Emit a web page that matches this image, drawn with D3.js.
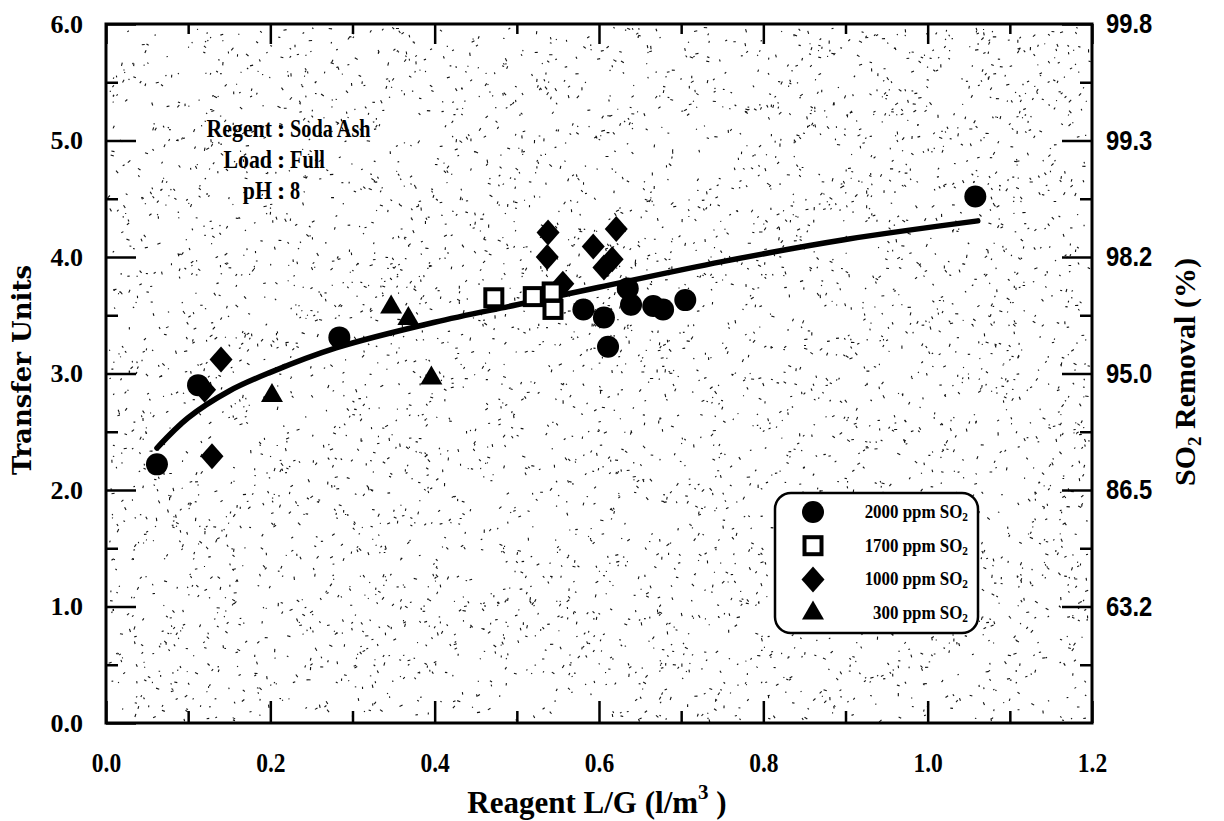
<!DOCTYPE html>
<html>
<head>
<meta charset="utf-8">
<script src="https://cdn.jsdelivr.net/npm/d3@7"></script>
<style>
  body { margin: 0; background: #fff; }
  svg { display: block; }
</style>
</head>
<body>
<div id="chart"></div>
<script>
  // ===== data =====
  const circles2000 = [
    [0.062, 2.22], [0.112, 2.90], [0.284, 3.31], [0.581, 3.55], [0.606, 3.48],
    [0.611, 3.23], [0.639, 3.59], [0.635, 3.73], [0.666, 3.58], [0.678, 3.55],
    [0.705, 3.63], [1.058, 4.52]
  ];
  const squares1700 = [[0.472, 3.65], [0.520, 3.66], [0.543, 3.70], [0.544, 3.55]];
  const diamonds1000 = [
    [0.120, 2.86], [0.129, 2.29], [0.140, 3.12], [0.538, 4.21], [0.537, 4.00],
    [0.593, 4.09], [0.621, 4.24], [0.616, 3.98], [0.606, 3.91], [0.556, 3.77]
  ];
  const triangles300 = [[0.202, 2.81], [0.347, 3.57], [0.368, 3.47], [0.396, 2.96]];

  // fitted curve
  const fitCurve = [
    [0.062, 2.36], [0.100, 2.62], [0.150, 2.85], [0.200, 3.01], [0.280, 3.22],
    [0.400, 3.44], [0.500, 3.59], [0.600, 3.74], [0.750, 3.96], [0.900, 4.15], [1.061, 4.31]
  ];

  const xTicks = [0, 0.2, 0.4, 0.6, 0.8, 1.0, 1.2];
  const xTickLabels = ['0.0', '0.2', '0.4', '0.6', '0.8', '1.0', '1.2'];
  const xMinorTicks = [0.1, 0.3, 0.5, 0.7, 0.9, 1.1];
  const yTicks = [0, 1, 2, 3, 4, 5, 6];
  const yTickLabels = ['0.0', '1.0', '2.0', '3.0', '4.0', '5.0', '6.0'];
  const yMinorTicks = [0.5, 1.5, 2.5, 3.5, 4.5, 5.5];
  const rightTicks = [1, 2, 3, 4, 5, 6];
  const rightTickLabels = ['63.2', '86.5', '95.0', '98.2', '99.3', '99.8'];

  const legendLabels = ['2000 ppm SO', '1700 ppm SO', '1000 ppm SO', '300 ppm SO'];
  const noteLabels = ['Regent', 'Load', 'pH'];
  const noteValues = ['Soda Ash', 'Full', '8'];

  (function() {
    // ===== layout =====
    const W = 1224, H = 821;
    const pL = 106, pR = 1092, pT = 24, pB = 723;
    const serif = 'Liberation Serif, Times New Roman, serif';

    const svg = d3.select('#chart').append('svg')
      .attr('width', W).attr('height', H);

    const x = d3.scaleLinear().domain([0, 1.2]).range([pL, pR]);
    const y = d3.scaleLinear().domain([0, 6]).range([pB, pT]);

    // squeeze text horizontally around its own x
    function squeeze(sel, k) {
      sel.attr('transform', function() {
        const tx = +this.getAttribute('x') || 0;
        return `translate(${tx},0) scale(${k},1) translate(${-tx},0)`;
      });
    }

    // scan speckle texture, seeded so it is the same every run
    const rnd = d3.randomLcg(0.271);
    const speck = svg.append('g').attr('stroke', '#111').attr('stroke-width', 1.1);
    for (let i = 0; i < 4800; i++) {
      const px = pL + 3 + rnd() * (pR - pL - 6);
      const py = pT + 3 + rnd() * (pB - pT - 6);
      const a = rnd() * Math.PI;
      const len = 1 + rnd() * 2.4;
      speck.append('line')
        .attr('x1', px).attr('y1', py)
        .attr('x2', px + Math.cos(a) * len).attr('y2', py + Math.sin(a) * len);
    }

    // ===== axes =====
    function tickStyle(g) {
      g.select('.domain').remove();
      g.selectAll('.tick line').attr('stroke', '#000').attr('stroke-width', 2.5);
    }

    svg.append('g').attr('transform', `translate(${pL},0)`)
      .call(d3.axisLeft(y).tickValues(yTicks).tickSize(-30).tickPadding(23)
        .tickFormat((d, i) => yTickLabels[i]))
      .call(tickStyle)
      .call(g => g.selectAll('text')
        .style('font-family', serif).style('font-weight', 'bold')
        .style('font-size', '26px').attr('fill', '#000'));
    svg.append('g').attr('transform', `translate(${pL},0)`)
      .call(d3.axisLeft(y).tickValues(yMinorTicks).tickSize(-12).tickFormat(''))
      .call(tickStyle);

    svg.append('g').attr('transform', `translate(${pR},0)`)
      .call(d3.axisRight(y).tickValues(rightTicks).tickSize(-30).tickPadding(14)
        .tickFormat((d, i) => rightTickLabels[i]))
      .call(tickStyle)
      .call(g => g.selectAll('text')
        .style('font-family', 'Liberation Sans, Arial, sans-serif').style('font-weight', 'bold')
        .style('font-size', '28px').attr('fill', '#000')
        .call(squeeze, 0.85));
    svg.append('g').attr('transform', `translate(${pR},0)`)
      .call(d3.axisRight(y).tickValues(yMinorTicks).tickSize(-12).tickFormat(''))
      .call(tickStyle);

    svg.append('g').attr('transform', `translate(0,${pB})`)
      .call(d3.axisBottom(x).tickValues(xTicks).tickSize(-22).tickPadding(29)
        .tickFormat((d, i) => xTickLabels[i]))
      .call(tickStyle)
      .call(g => g.selectAll('text')
        .style('font-family', serif).style('font-weight', 'bold')
        .style('font-size', '28px').attr('fill', '#000')
        .call(squeeze, 0.84));
    svg.append('g').attr('transform', `translate(0,${pB})`)
      .call(d3.axisBottom(x).tickValues(xMinorTicks).tickSize(-12).tickFormat(''))
      .call(tickStyle);

    svg.append('g').attr('transform', `translate(0,${pT})`)
      .call(d3.axisTop(x).tickValues(xTicks).tickSize(-20).tickFormat(''))
      .call(tickStyle);
    svg.append('g').attr('transform', `translate(0,${pT})`)
      .call(d3.axisTop(x).tickValues(xMinorTicks).tickSize(-10).tickFormat(''))
      .call(tickStyle);

    // frame
    svg.append('rect')
      .attr('x', pL).attr('y', pT)
      .attr('width', pR - pL).attr('height', pB - pT)
      .attr('fill', 'none').attr('stroke', '#000').attr('stroke-width', 3);

    // axis titles
    const xt = svg.append('text')
      .attr('x', 597).attr('y', 813).attr('text-anchor', 'middle')
      .style('font-family', serif).style('font-weight', 'bold').style('font-size', '31px');
    xt.append('tspan').text('Reagent L/G (l/m');
    xt.append('tspan').attr('dy', -14).style('font-size', '21px').text('3');
    xt.append('tspan').attr('dy', 14).text(' )');

    svg.append('text')
      .attr('transform', 'translate(31,370) rotate(-90)')
      .attr('text-anchor', 'middle')
      .style('font-family', 'DejaVu Serif, serif').style('font-weight', 'bold')
      .style('font-size', '26px')
      .text('Transfer Units');

    const rt = svg.append('text')
      .attr('transform', 'translate(1195,372) rotate(-90)')
      .attr('text-anchor', 'middle')
      .style('font-family', serif).style('font-weight', 'bold').style('font-size', '30px');
    rt.append('tspan').text('SO');
    rt.append('tspan').attr('dy', 6).style('font-size', '19px').text('2');
    rt.append('tspan').attr('dy', -6).text(' Removal (%)');

    // annotation (colons lined up)
    const note = svg.append('g')
      .style('font-family', serif).style('font-weight', 'bold').style('font-size', '26px');
    noteLabels.forEach((lab, i) => {
      const by = 137 + i * 31;
      note.append('text').attr('x', 272).attr('y', by).attr('text-anchor', 'end')
        .text(lab).call(squeeze, 0.84);
      note.append('text').attr('x', 281).attr('y', by).attr('text-anchor', 'middle')
        .text(':');
      note.append('text').attr('x', 290).attr('y', by).attr('text-anchor', 'start')
        .text(noteValues[i]).call(squeeze, 0.78);
    });

    // ===== fitted curve =====
    const line = d3.line()
      .x(d => x(d[0])).y(d => y(d[1]))
      .curve(d3.curveCatmullRom.alpha(0.5));
    svg.append('path')
      .datum(fitCurve)
      .attr('d', line)
      .attr('fill', 'none').attr('stroke', '#000')
      .attr('stroke-width', 5.5).attr('stroke-linecap', 'round');

    // ===== markers =====
    function diamondPath(w, h) {
      const p = d3.path();
      p.moveTo(0, -h / 2); p.lineTo(w / 2, 0); p.lineTo(0, h / 2); p.lineTo(-w / 2, 0);
      p.closePath();
      return p.toString();
    }
    const triPath = d3.symbol(d3.symbolTriangle, 210)();

    function drawCircle(g, cx, cy) {
      g.append('circle').attr('cx', cx).attr('cy', cy).attr('r', 11).attr('fill', '#000');
    }
    function drawSquare(g, cx, cy) {
      g.append('rect').attr('x', cx - 8.5).attr('y', cy - 8.5)
        .attr('width', 17).attr('height', 17)
        .attr('fill', '#fff').attr('stroke', '#000').attr('stroke-width', 4);
    }
    function drawDiamond(g, cx, cy) {
      g.append('path').attr('d', diamondPath(23, 26))
        .attr('transform', `translate(${cx},${cy})`).attr('fill', '#000');
    }
    function drawTriangle(g, cx, cy) {
      g.append('path').attr('d', triPath)
        .attr('transform', `translate(${cx},${cy})`).attr('fill', '#000');
    }

    const marks = svg.append('g');
    triangles300.forEach(d => drawTriangle(marks, x(d[0]), y(d[1])));
    diamonds1000.forEach(d => drawDiamond(marks, x(d[0]), y(d[1])));
    squares1700.forEach(d => drawSquare(marks, x(d[0]), y(d[1])));
    circles2000.forEach(d => drawCircle(marks, x(d[0]), y(d[1])));

    // ===== legend =====
    const lg = svg.append('g');
    lg.append('rect')
      .attr('x', 775).attr('y', 493).attr('width', 203).attr('height', 140)
      .attr('rx', 16).attr('ry', 16)
      .attr('fill', '#fff').attr('stroke', '#000').attr('stroke-width', 2.5);
    const drawers = [drawCircle, drawSquare, drawDiamond, drawTriangle];
    legendLabels.forEach((lab, i) => {
      const cy = 512 + i * 33.7;
      drawers[i](lg, 813, cy);
      const t = lg.append('text')
        .attr('x', 968).attr('y', cy + 6).attr('text-anchor', 'end')
        .style('font-family', serif).style('font-weight', 'bold').style('font-size', '18px');
      t.append('tspan').text(lab);
      t.append('tspan').attr('dy', 3).style('font-size', '12px').text('2');
      t.call(squeeze, 0.94);
    });
  })();
</script>
</body>
</html>
